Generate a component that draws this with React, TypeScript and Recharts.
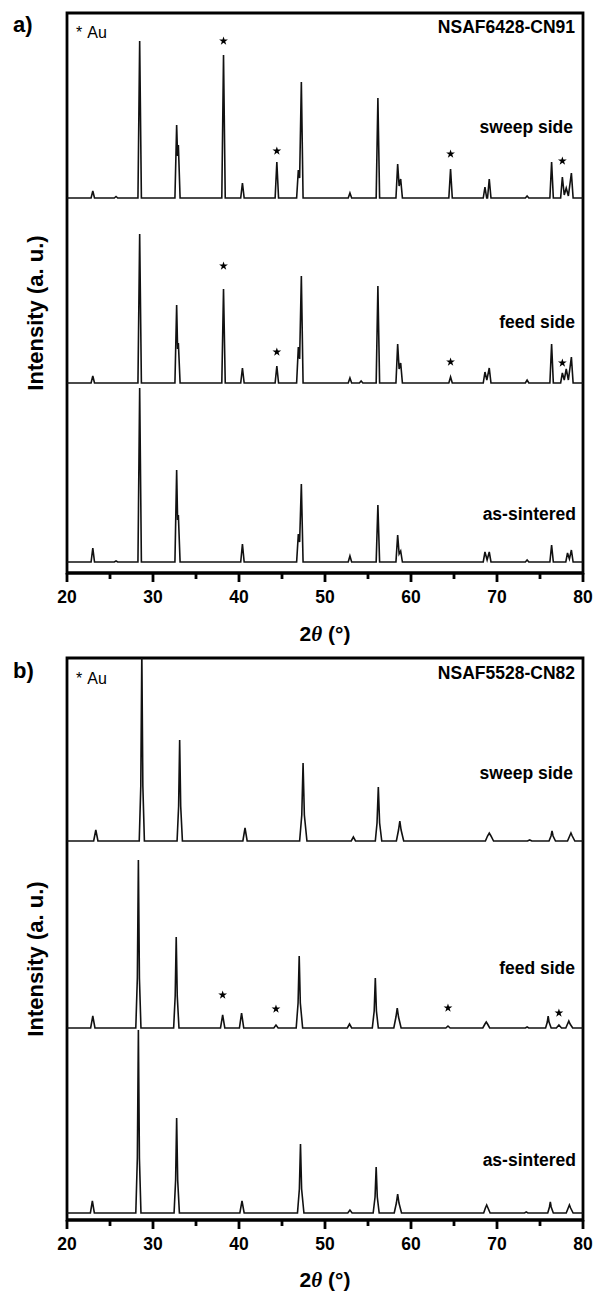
import React from "react";
import {
  ComposedChart,
  Line,
  Scatter,
  XAxis,
  YAxis,
  ReferenceArea,
  Symbols,
} from "recharts";

// 2θ ticks (minor every 5°, labels every 10°)
const xTicks = [20, 25, 30, 35, 40, 45, 50, 55, 60, 65, 70, 75, 80];

// panel a) NSAF6428-CN91 — [2θ, intensity a.u.]
const sweepA: [number, number][] = [
  [20, 0], [22.8, 0], [23.0, 7], [23.2, 0],
  [25.5, 0], [25.7, 1.5], [25.9, 0],
  [28.25, 0], [28.45, 157], [28.65, 0],
  [32.55, 0], [32.75, 73], [32.86, 42], [32.95, 53], [33.15, 0],
  [38.0, 0], [38.2, 143], [38.4, 0],
  [40.2, 0], [40.4, 15], [40.6, 0],
  [44.2, 0], [44.4, 36], [44.6, 0],
  [46.7, 0], [46.9, 28], [47.05, 20], [47.25, 116], [47.45, 0],
  [52.7, 0], [52.9, 5], [53.1, 0],
  [55.95, 0], [56.15, 100], [56.35, 0],
  [58.25, 0], [58.45, 34], [58.62, 12], [58.8, 19], [59.0, 0],
  [64.4, 0], [64.6, 29], [64.8, 0],
  [68.4, 0], [68.6, 11], [68.8, 0], [68.9, 0], [69.1, 19], [69.3, 0],
  [73.3, 0], [73.5, 2], [73.7, 0],
  [76.15, 0], [76.35, 36], [76.55, 0],
  [77.4, 0], [77.6, 21], [77.82, 3], [78.05, 10], [78.3, 2], [78.65, 25], [78.85, 0],
  [80, 0],
];

const feedA: [number, number][] = [
  [20, 0], [22.8, 0], [23.0, 7], [23.2, 0],
  [28.25, 0], [28.45, 149], [28.65, 0],
  [32.55, 0], [32.75, 78], [32.86, 34], [32.95, 40], [33.15, 0],
  [38.0, 0], [38.2, 94], [38.4, 0],
  [40.2, 0], [40.4, 15], [40.6, 0],
  [44.2, 0], [44.4, 17], [44.6, 0],
  [46.7, 0], [46.9, 36], [47.05, 24], [47.25, 107], [47.45, 0],
  [52.7, 0], [52.9, 5], [53.1, 0],
  [54.0, 0], [54.2, 2], [54.4, 0],
  [55.95, 0], [56.15, 97], [56.35, 0],
  [58.25, 0], [58.45, 39], [58.62, 14], [58.8, 20], [59.0, 0],
  [64.4, 0], [64.6, 6], [64.8, 0],
  [68.4, 0], [68.6, 11], [68.82, 3], [69.1, 15], [69.3, 0],
  [73.3, 0], [73.5, 3], [73.7, 0],
  [76.15, 0], [76.35, 39], [76.55, 0],
  [77.4, 0], [77.6, 10], [77.82, 3], [78.05, 14], [78.3, 3], [78.65, 26], [78.85, 0],
  [80, 0],
];

const asA: [number, number][] = [
  [20, 0], [22.8, 0], [23.0, 14], [23.2, 0],
  [25.5, 0], [25.7, 1], [25.9, 0],
  [28.25, 0], [28.45, 174], [28.65, 0],
  [32.55, 0], [32.75, 92], [32.86, 42], [32.95, 47], [33.15, 0],
  [40.2, 0], [40.4, 18], [40.6, 0],
  [46.7, 0], [46.9, 28], [47.05, 20], [47.25, 78], [47.45, 0],
  [52.7, 0], [52.9, 6], [53.1, 0],
  [55.95, 0], [56.15, 57], [56.35, 0],
  [58.25, 0], [58.45, 27], [58.62, 8], [58.8, 11], [59.0, 0],
  [68.4, 0], [68.6, 10], [68.85, 2], [69.1, 10], [69.3, 0],
  [73.3, 0], [73.5, 2], [73.7, 0],
  [76.15, 0], [76.35, 17], [76.55, 0],
  [78.0, 0], [78.2, 9], [78.42, 3], [78.65, 12], [78.85, 0],
  [80, 0],
];

// Au reflections marked with a star: [2θ, height on plot scale]
const starsA: [number, number][] = [
  [38.2, 532], [44.4, 422], [64.6, 419], [77.6, 412],
  [38.2, 307], [44.4, 221], [64.6, 211], [77.6, 210],
];

// panel b) NSAF5528-CN82
const sweepB: [number, number][] = [
  [20, 0], [23.1, 0], [23.35, 11], [23.6, 0],
  [28.4, 0], [28.58, 55], [28.7, 190], [28.82, 55], [29.0, 0],
  [32.8, 0], [32.98, 35], [33.1, 101], [33.22, 35], [33.42, 0],
  [40.45, 0], [40.7, 13], [40.95, 0],
  [47.05, 0], [47.3, 26], [47.45, 78], [47.6, 26], [47.9, 0],
  [53.05, 0], [53.3, 4], [53.55, 0],
  [55.85, 0], [56.05, 18], [56.2, 54], [56.35, 18], [56.6, 0],
  [58.3, 0], [58.55, 11], [58.7, 20], [58.85, 11], [59.15, 0],
  [68.65, 0], [68.9, 5], [69.1, 8], [69.3, 5], [69.6, 0],
  [73.55, 0], [73.8, 1], [74.05, 0],
  [76.05, 0], [76.28, 5], [76.4, 10], [76.52, 5], [76.8, 0],
  [78.2, 0], [78.45, 5], [78.6, 8], [78.75, 5], [79.05, 0],
  [80, 0],
];

const feedB: [number, number][] = [
  [20, 0], [22.75, 0], [23.0, 12], [23.25, 0],
  [28.0, 0], [28.18, 50], [28.3, 168], [28.42, 50], [28.6, 0],
  [32.4, 0], [32.58, 32], [32.7, 91], [32.82, 32], [33.02, 0],
  [37.85, 0], [38.1, 13], [38.35, 0],
  [40.05, 0], [40.3, 15], [40.55, 0],
  [44.05, 0], [44.3, 3], [44.55, 0],
  [46.65, 0], [46.87, 25], [47.0, 72], [47.13, 25], [47.4, 0],
  [52.6, 0], [52.85, 4], [53.1, 0],
  [55.5, 0], [55.72, 17], [55.85, 50], [55.98, 17], [56.2, 0],
  [58.0, 0], [58.25, 11], [58.4, 20], [58.55, 11], [58.85, 0],
  [64.05, 0], [64.3, 2], [64.55, 0],
  [68.35, 0], [68.6, 4], [68.75, 6], [68.9, 4], [69.15, 0],
  [73.3, 0], [73.5, 1], [73.7, 0],
  [75.65, 0], [75.85, 6], [75.95, 12], [76.05, 6], [76.3, 0],
  [76.9, 0], [77.2, 3], [77.5, 0],
  [78.0, 0], [78.2, 4], [78.35, 7], [78.5, 4], [78.8, 0],
  [80, 0],
];

const asB: [number, number][] = [
  [20, 0], [22.72, 0], [22.95, 12], [23.18, 0],
  [28.0, 0], [28.18, 55], [28.3, 183], [28.42, 55], [28.6, 0],
  [32.45, 0], [32.63, 33], [32.75, 95], [32.87, 33], [33.07, 0],
  [40.1, 0], [40.35, 12], [40.6, 0],
  [46.8, 0], [47.02, 24], [47.15, 69], [47.28, 24], [47.55, 0],
  [52.65, 0], [52.9, 3], [53.15, 0],
  [55.6, 0], [55.82, 16], [55.95, 46], [56.08, 16], [56.3, 0],
  [58.05, 0], [58.3, 10], [58.45, 19], [58.6, 10], [58.9, 0],
  [68.45, 0], [68.65, 5], [68.8, 8], [68.95, 5], [69.2, 0],
  [73.2, 0], [73.4, 1], [73.6, 0],
  [75.9, 0], [76.1, 6], [76.2, 11], [76.3, 6], [76.55, 0],
  [78.05, 0], [78.28, 5], [78.42, 8], [78.56, 5], [78.85, 0],
  [80, 0],
];

const starsB: [number, number][] = [
  [38.1, 225], [44.3, 211], [64.3, 212], [77.2, 207],
];

const FONT = '"Liberation Sans", Arial, sans-serif';

const toRows = (pts: [number, number][], offset = 0) =>
  pts.map(([x, y]) => ({ x, y: y + offset }));

function XTick(props: any) {
  const { x, y, payload } = props;
  const major = payload.value % 10 === 0;
  return (
    <g>
      <line x1={x} y1={y} x2={x} y2={y + (major ? 9 : 6)} stroke="#000" strokeWidth={2.8} />
      {major && (
        <text x={x} y={y + 30} textAnchor="middle" fontSize={17.5} fontWeight="bold" fontFamily={FONT} fill="#000">
          {payload.value}
        </text>
      )}
    </g>
  );
}

const Star = (props: any) => (
  <Symbols cx={props.cx} cy={props.cy} type="star" size={24} fill="#000" stroke="none" />
);

type Trace = { pts: [number, number][]; offset: number };

function Panel({ traces, stars, yMax, top, axisH }: { traces: Trace[]; stars: [number, number][]; yMax: number; top: number; axisH: number }) {
  return (
    <ComposedChart width={593} height={646} margin={{ top, right: 10, left: 67, bottom: 0 }}>
      <XAxis
        type="number"
        dataKey="x"
        domain={[20, 80]}
        ticks={xTicks}
        allowDataOverflow
        height={axisH}
        tickSize={0}
        tickMargin={0}
        tickLine={false}
        axisLine={{ stroke: "#000", strokeWidth: 2.8 }}
        tick={<XTick />}
        interval={0}
      />
      <YAxis type="number" dataKey="y" domain={[0, yMax]} allowDataOverflow hide />
      <ReferenceArea x1={20} x2={80} y1={0} y2={yMax} fill="none" stroke="#000" strokeWidth={2.8} />
      {traces.map((t, i) => (
        <Line
          key={i}
          data={toRows(t.pts, t.offset)}
          dataKey="y"
          type="linear"
          stroke="#111"
          strokeWidth={1.6}
          dot={false}
          isAnimationActive={false}
        />
      ))}
      <Scatter data={toRows(stars)} dataKey="y" shape={<Star />} isAnimationActive={false} />
    </ComposedChart>
  );
}

const txt: React.CSSProperties = {
  position: "absolute",
  fontFamily: FONT,
  fontWeight: "bold",
  fontSize: 17.5,
  lineHeight: 1,
  color: "#000",
  whiteSpace: "nowrap",
  transform: "translateY(-50%)",
};

function Labels({ dy, tag, sample }: { dy: number; tag: string; sample: string }) {
  return (
    <>
      <div style={{ ...txt, left: 13, top: dy + 25, fontSize: 22 }}>{tag}</div>
      <div style={{ ...txt, left: 76, top: dy + 33, fontSize: 16, fontWeight: "normal" }}>
        <span style={{ marginRight: 5 }}>*</span>Au
      </div>
      <div style={{ ...txt, right: 18, top: dy + 28 }}>{sample}</div>
      <div style={{ ...txt, right: 20, top: dy + 128 }}>sweep side</div>
      <div style={{ ...txt, right: 18, top: dy + 323 }}>feed side</div>
      <div style={{ ...txt, right: 17, top: dy + 515 }}>as-sintered</div>
      <div
        style={{
          ...txt,
          left: 36,
          top: dy + 313,
          fontSize: 22,
          transform: "translate(-50%, -50%) rotate(-90deg)",
        }}
      >
        Intensity (a. u.)
      </div>
      <div style={{ ...txt, left: 325, top: dy + 634, fontSize: 21, transform: "translate(-50%, -50%)" }}>
        2<i style={{ fontFamily: '"Liberation Serif", serif' }}>θ</i> (°)
      </div>
    </>
  );
}

export default function App() {
  return (
    <div style={{ position: "absolute", left: 0, top: 0, width: 593, height: 1292, background: "#fff", overflow: "hidden" }}>
      <div style={{ position: "absolute", left: 0, top: 0 }}>
        <Panel
          top={13}
          axisH={73}
          yMax={560}
          traces={[
            { pts: sweepA, offset: 375 },
            { pts: feedA, offset: 190 },
            { pts: asA, offset: 11 },
          ]}
          stars={starsA}
        />
      </div>
      <div style={{ position: "absolute", left: 0, top: 646 }}>
        <Panel
          top={12}
          axisH={72}
          yMax={562}
          traces={[
            { pts: sweepB, offset: 379 },
            { pts: feedB, offset: 192 },
            { pts: asB, offset: 7 },
          ]}
          stars={starsB}
        />
      </div>
      <Labels dy={0} tag="a)" sample="NSAF6428-CN91" />
      <Labels dy={646} tag="b)" sample="NSAF5528-CN82" />
    </div>
  );
}
